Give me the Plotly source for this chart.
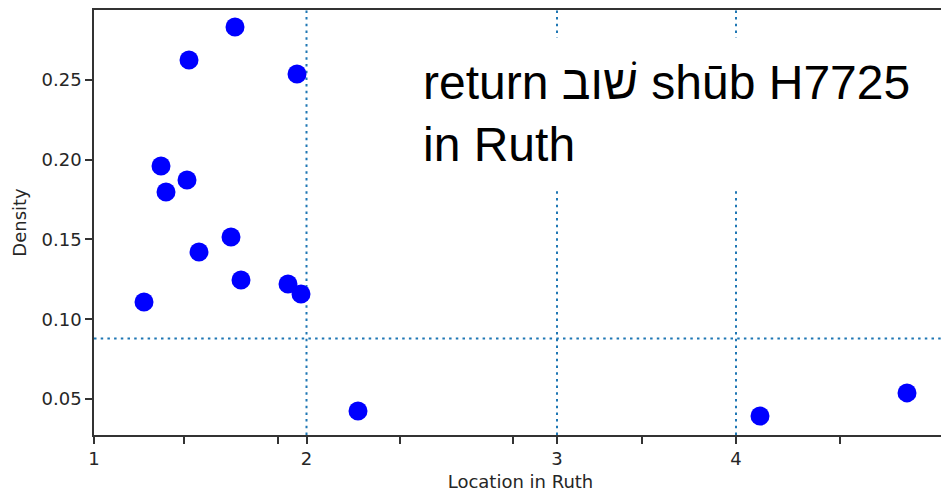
import plotly.graph_objects as go

# Location along the book (arbitrary linear units), chapter starts and tick labels
chapter_starts = [0, 212.5, 463, 642]
chapter_labels = ["1", "2", "3", "4"]
minor_ticks = [90, 184, 306, 419, 548, 746, 848]
x_end = 853

# Occurrences: location and density
loc = [141, 95, 203, 67, 93, 72, 137, 105, 147, 194, 207, 50, 264, 666, 813]
density = [0.2832, 0.2625, 0.2538, 0.1961, 0.1873, 0.1798, 0.1516, 0.1422,
           0.1246, 0.1221, 0.1158, 0.1108, 0.0425, 0.0393, 0.0538]
mean_density = 0.0879

y_ticks = [0.05, 0.10, 0.15, 0.20, 0.25]
y_labels = ["0.05", "0.10", "0.15", "0.20", "0.25"]
y_range = [0.0274, 0.2939]

title_text = "return שׁוב shūb H7725<br>in Ruth"

fig = go.Figure()
fig.add_trace(go.Scatter(
    x=loc, y=density, mode="markers",
    marker=dict(color="#0000ff", size=19, line=dict(width=0)),
    showlegend=False, hoverinfo="x+y",
))

dot_line = dict(color="#1f77b4", width=2, dash="2.5px,4.2px")
for cs in chapter_starts[1:]:
    fig.add_shape(type="line", xref="x", yref="paper", x0=cs, x1=cs, y0=0, y1=1,
                  line=dot_line, layer="below")
fig.add_shape(type="line", xref="paper", yref="y", x0=0, x1=1,
              y0=mean_density, y1=mean_density, line=dot_line, layer="below")

fig.add_annotation(
    text=title_text, xref="paper", yref="paper", x=0.3634, y=0.937,
    xanchor="left", yanchor="top", align="left", showarrow=False,
    font=dict(family="Liberation Sans, Arial", size=48, color="#000000"),
    bgcolor="white", borderpad=18,
)

tick_font = dict(family="DejaVu Sans", size=18, color="#262626")
fig.update_xaxes(
    range=[0, x_end], tickmode="array",
    tickvals=chapter_starts + minor_ticks,
    ticktext=chapter_labels + [""] * len(minor_ticks),
    ticks="outside", ticklen=7, tickwidth=1.5, tickcolor="#333333",
    showline=True, linecolor="#333333", linewidth=1.5, mirror=True,
    showgrid=False, zeroline=False, tickfont=tick_font,
    title=dict(text="Location in Ruth", font=tick_font, standoff=7),
)
fig.update_yaxes(
    range=y_range, tickmode="array", tickvals=y_ticks, ticktext=y_labels,
    ticks="outside", ticklen=7, tickwidth=1.5, tickcolor="#333333",
    showline=True, linecolor="#333333", linewidth=1.5, mirror=True,
    showgrid=False, zeroline=False, tickfont=tick_font,
    title=dict(text="Density", font=tick_font, standoff=10),
)
# the page body has an 8px margin, so the figure is sized to fit the window
fig.update_layout(
    width=941, height=484,
    margin=dict(l=86, r=2, t=2, b=57, autoexpand=False),
    paper_bgcolor="white", plot_bgcolor="white",
)
fig.write_html("out.html")
